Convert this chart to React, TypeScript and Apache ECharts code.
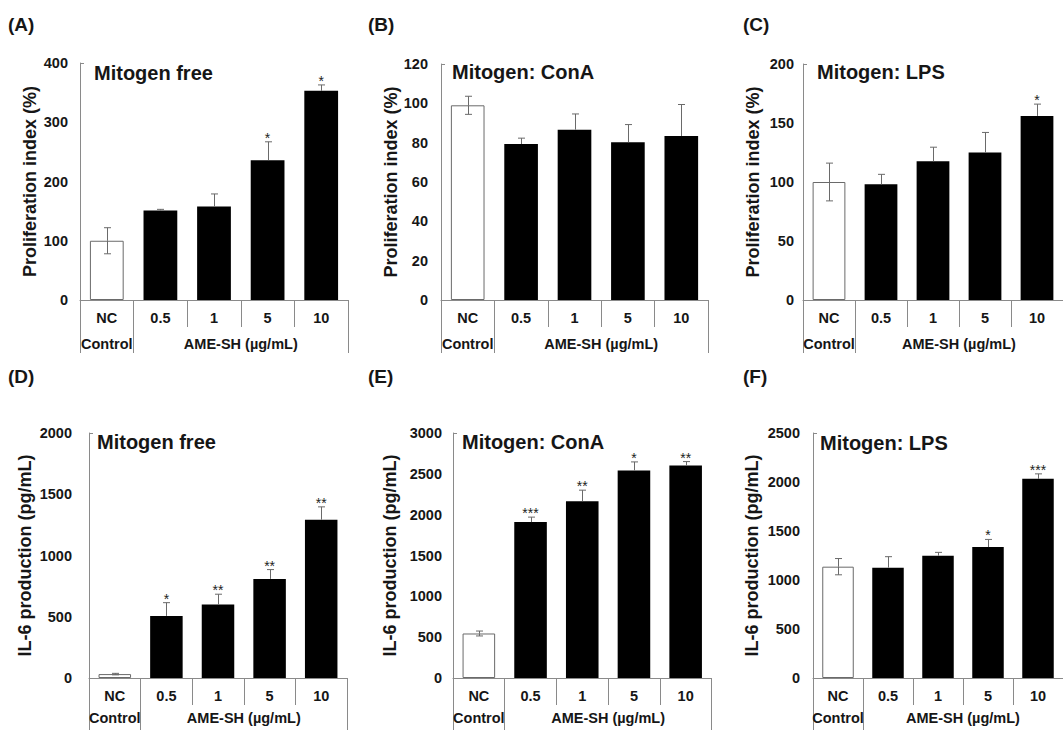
import React, { useEffect, useRef } from "react";
import * as echarts from "echarts";

// Treatment groups on every panel
const doses = ["NC", "0.5", "1", "5", "10"];
const groupLabels = ["Control", "AME-SH (µg/mL)"];

// (A) Proliferation index, mitogen free
const prolifFree = [100, 151, 158, 236, 353];
const prolifFreeErr = [22, 2, 21, 31, 10];
const prolifFreeSig = ["", "", "", "*", "*"];

// (B) Proliferation index, ConA
const prolifConA = [99, 79.3, 86.6, 80.2, 83.4];
const prolifConAErr = [4.6, 3, 8, 9, 16];
const prolifConASig = ["", "", "", "", ""];

// (C) Proliferation index, LPS
const prolifLPS = [100, 98, 117.5, 125, 156];
const prolifLPSErr = [16, 8.5, 12, 17, 10];
const prolifLPSSig = ["", "", "", "", "*"];

// (D) IL-6, mitogen free
const il6Free = [32, 507, 600, 809, 1292];
const il6FreeErr = [6, 108, 84, 76, 105];
const il6FreeSig = ["", "*", "**", "**", "**"];

// (E) IL-6, ConA
const il6ConA = [545, 1909, 2165, 2540, 2601];
const il6ConAErr = [30, 61, 135, 106, 49];
const il6ConASig = ["", "***", "**", "*", "**"];

// (F) IL-6, LPS
const il6LPS = [1136, 1126, 1248, 1336, 2032];
const il6LPSErr = [83, 112, 34, 78, 51];
const il6LPSSig = ["", "", "", "*", "***"];

// y-axis scales
const yMax = [400, 120, 200, 2000, 3000, 2500];
const yStep = [100, 20, 50, 500, 500, 500];

const FONT = "'Liberation Sans', Arial, sans-serif";
const AXIS_GRAY = "#8a8a8a";
const TEXT = "#161616";

type Panel = {
  letter: string;
  title: string;
  yName: string;
  values: number[];
  errs: number[];
  sig: string[];
  grid: { left: number; top: number; width: number; height: number };
  labelMargin: number;
  nameGap: number;
  titleLeft: number;
  titleTop: number;
  letterLeft: number;
  letterTop: number;
  longTick: number;
  groupMargin: number;
};

const PROLIF = "Proliferation index (%)";
const IL6 = "IL-6 production (pg/mL)";

const panels: Panel[] = [
  { letter: "(A)", title: "Mitogen free", yName: PROLIF, values: prolifFree, errs: prolifFreeErr, sig: prolifFreeSig,
    grid: { left: 80, top: 63, width: 268, height: 237 }, labelMargin: 12, nameGap: 41,
    titleLeft: 94, titleTop: 63, letterLeft: 8, letterTop: 15, longTick: 53, groupMargin: 36 },
  { letter: "(B)", title: "Mitogen: ConA", yName: PROLIF, values: prolifConA, errs: prolifConAErr, sig: prolifConASig,
    grid: { left: 441, top: 64, width: 267, height: 236 }, labelMargin: 13, nameGap: 41,
    titleLeft: 452, titleTop: 62, letterLeft: 368, letterTop: 15, longTick: 53, groupMargin: 36 },
  { letter: "(C)", title: "Mitogen: LPS", yName: PROLIF, values: prolifLPS, errs: prolifLPSErr, sig: prolifLPSSig,
    grid: { left: 803, top: 64, width: 267, height: 236 }, labelMargin: 9, nameGap: 41,
    titleLeft: 817, titleTop: 62, letterLeft: 743, letterTop: 15, longTick: 53, groupMargin: 36 },
  { letter: "(D)", title: "Mitogen free", yName: IL6, values: il6Free, errs: il6FreeErr, sig: il6FreeSig,
    grid: { left: 89, top: 433, width: 258, height: 245 }, labelMargin: 17, nameGap: 55,
    titleLeft: 97, titleTop: 432, letterLeft: 8, letterTop: 367, longTick: 60, groupMargin: 32 },
  { letter: "(E)", title: "Mitogen: ConA", yName: IL6, values: il6ConA, errs: il6ConAErr, sig: il6ConASig,
    grid: { left: 453, top: 433, width: 258.5, height: 245 }, labelMargin: 11, nameGap: 54,
    titleLeft: 462, titleTop: 432, letterLeft: 368, letterTop: 367, longTick: 60, groupMargin: 32 },
  { letter: "(F)", title: "Mitogen: LPS", yName: IL6, values: il6LPS, errs: il6LPSErr, sig: il6LPSSig,
    grid: { left: 813, top: 433, width: 258, height: 245 }, labelMargin: 13, nameGap: 52,
    titleLeft: 820, titleTop: 433, letterLeft: 743, letterTop: 367, longTick: 60, groupMargin: 32 },
];

function buildOption() {
  const title: any[] = [];
  const grid: any[] = [];
  const xAxis: any[] = [];
  const yAxis: any[] = [];
  const series: any[] = [];

  panels.forEach((p, k) => {
    title.push({
      text: p.letter, left: p.letterLeft, top: p.letterTop, padding: 0,
      textStyle: { fontFamily: FONT, fontSize: 19, fontWeight: "bold", color: TEXT },
    });
    title.push({
      text: p.title, left: p.titleLeft, top: p.titleTop, padding: 0,
      textStyle: { fontFamily: FONT, fontSize: 20, fontWeight: "bold", color: TEXT },
    });
    grid.push({ ...p.grid, containLabel: false });

    // dose categories with short separators
    xAxis.push({
      type: "category", gridIndex: k, position: "bottom", data: doses,
      axisLine: { show: true, lineStyle: { color: AXIS_GRAY, width: 1 } },
      axisTick: { show: true, interval: 0, length: 27, lineStyle: { color: AXIS_GRAY } },
      axisLabel: { interval: 0, margin: 10, fontFamily: FONT, fontSize: 14.5, fontWeight: "bold", color: TEXT },
      splitLine: { show: false },
    });
    // group row: Control | AME-SH
    xAxis.push({
      type: "value", gridIndex: k, position: "bottom", min: 0, max: doses.length,
      axisLine: { show: false },
      axisTick: { show: true, customValues: [0, 1, doses.length], length: p.longTick, lineStyle: { color: AXIS_GRAY } },
      axisLabel: {
        customValues: [0.5, (1 + doses.length) / 2], margin: p.groupMargin,
        formatter: (v: number) => (v < 1 ? groupLabels[0] : groupLabels[1]),
        fontFamily: FONT, fontSize: 14.5, fontWeight: "bold", color: TEXT,
      },
      splitLine: { show: false },
    });

    yAxis.push({
      type: "value", gridIndex: k, min: 0, max: yMax[k], interval: yStep[k],
      name: p.yName, nameLocation: "middle", nameGap: p.nameGap,
      nameTextStyle: { fontFamily: FONT, fontSize: 18, fontWeight: "bold", color: TEXT },
      axisLine: { show: true, lineStyle: { color: AXIS_GRAY, width: 1 } },
      axisTick: { show: true, inside: true, length: 4, customValues: [yMax[k]], lineStyle: { color: AXIS_GRAY } },
      axisLabel: {
        margin: p.labelMargin, formatter: (v: number) => String(v),
        fontFamily: FONT, fontSize: 14.5, fontWeight: "bold", color: TEXT,
      },
      splitLine: { show: false },
    });

    series.push({
      type: "bar", xAxisIndex: 2 * k, yAxisIndex: k, barWidth: "63%",
      data: p.values.map((v, i) => ({
        value: v,
        itemStyle: i === 0
          ? { color: "#ffffff", borderColor: "#6a6a6a", borderWidth: 1 }
          : { color: "#000000" },
      })),
    });

    series.push({
      type: "custom", xAxisIndex: 2 * k, yAxisIndex: k, z: 5, silent: true,
      data: p.values.map((v, i) => [i, v, p.errs[i], i === 0 ? 1 : 0]),
      renderItem: (params: any, api: any) => {
        const i = api.value(0);
        const v = api.value(1);
        const e = api.value(2);
        const lower = api.value(3);
        const sig = p.sig[i];
        const top = api.coord([i, v + e]);
        const mid = api.coord([i, v]);
        const bot = api.coord([i, v - e]);
        const x = Math.round(top[0]) + 0.5;
        const cap = 3.5;
        const stroke = { stroke: "#6a6a6a", lineWidth: 1 };
        const children: any[] = [
          { type: "line", shape: { x1: x, y1: top[1], x2: x, y2: mid[1] }, style: stroke },
          { type: "line", shape: { x1: x - cap, y1: top[1], x2: x + cap, y2: top[1] }, style: stroke },
        ];
        if (lower) {
          children.push({ type: "line", shape: { x1: x, y1: mid[1], x2: x, y2: bot[1] }, style: stroke });
          children.push({ type: "line", shape: { x1: x - cap, y1: bot[1], x2: x + cap, y2: bot[1] }, style: stroke });
        }
        if (sig) {
          children.push({
            type: "text",
            style: {
              text: sig, x: top[0], y: top[1] - 4, align: "center", verticalAlign: "middle",
              fontFamily: FONT, fontSize: 14, fill: "#222",
            },
          });
        }
        return { type: "group", children };
      },
    });
  });

  return { animation: false, backgroundColor: "#ffffff", title, grid, xAxis, yAxis, series };
}

export default function App() {
  const ref = useRef<HTMLDivElement>(null);
  useEffect(() => {
    if (!ref.current) return;
    const chart = echarts.init(ref.current, null, { renderer: "svg" });
    chart.setOption(buildOption() as any);
    return () => chart.dispose();
  }, []);
  return (
    <div
      ref={ref}
      style={{ position: "fixed", left: 0, top: 0, width: 1063, height: 730, background: "#fff" }}
    />
  );
}
